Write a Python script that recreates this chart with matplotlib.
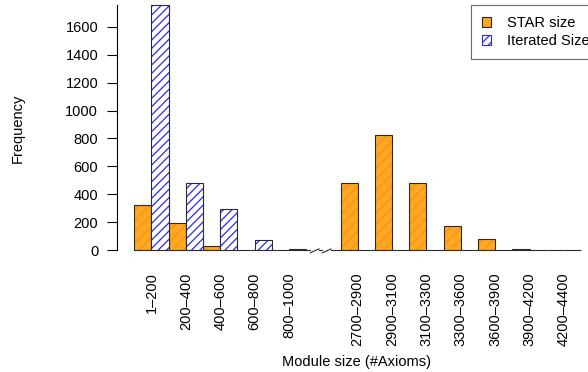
import matplotlib
matplotlib.use('Agg')
import matplotlib.pyplot as plt
from matplotlib.patches import Patch

plt.rcParams['font.family'] = ['Liberation Sans', 'DejaVu Sans']
plt.rcParams['hatch.linewidth'] = 0.9

# data
left_labels = ['1\u2013200', '200\u2013400', '400\u2013600', '600\u2013800', '800\u20131000']
right_labels = ['2700\u20132900', '2900\u20133100', '3100\u20133300', '3300\u20133600',
                '3600\u20133900', '3900\u20134200', '4200\u20134400']
star_left = [323, 194, 30, 0, 0]
iter_left = [1755, 483, 292, 72, 5]
star_right = [483, 823, 483, 172, 79, 8, 3]
iter_right = [0, 0, 0, 0, 0, 0, 0]

# group slots: left groups 0..4, one empty slot, right groups 6..12
groups = list(range(len(left_labels))) + list(range(6, 6 + len(right_labels)))
labels = left_labels + right_labels
star = star_left + star_right
iterated = iter_left + iter_right

orange = '#FFA623'
orange_hatch = '#F29612'
blue = '#2B2BF0'
edge = '#2a2a2a'

fig = plt.figure(figsize=(5.88, 3.72), dpi=100)
ax = fig.add_axes([117 / 588, 1 - 250 / 372, 1 - 117 / 588, (250 - 5) / 372])

xs_star = [2 * g for g in groups]
xs_iter = [2 * g + 1 for g in groups]

# orange bars: fill + faint hatch, then outline
ax.bar(xs_star, star, width=1, align='edge', color=orange, edgecolor=orange_hatch,
       hatch='///', linewidth=0, clip_on=False)
ax.bar(xs_star, star, width=1, align='edge', fill=False, edgecolor=edge,
       linewidth=0.8, clip_on=False)
# blue hatched bars
ax.bar(xs_iter, iterated, width=1, align='edge', color='white', edgecolor=blue,
       hatch='////', linewidth=0, clip_on=False)
ax.bar(xs_iter, iterated, width=1, align='edge', fill=False, edgecolor=edge,
       linewidth=0.8, clip_on=False)

# baseline across the empty slot with break marks
ax.plot([10, 10.25], [0, 0], color=edge, lw=0.8, clip_on=False)
ax.plot([10.75, 10.95], [0, 0], color=edge, lw=0.8, clip_on=False)
ax.plot([11.45, 12], [0, 0], color=edge, lw=0.8, clip_on=False)
for x0 in [10.25, 10.95]:
    ax.plot([x0, x0 + 0.5], [-20, 8], color=edge, lw=0.8, clip_on=False)

ax.set_xlim(-1, (588 - 134) / 17.2)
ax.set_ylim(0, 1757)

ax.set_yticks(range(0, 1601, 200))
ax.set_xticks([2 * g + 1 for g in groups])
ax.set_xticklabels(labels, rotation=90, va='top', ha='center')
ax.tick_params(axis='x', length=0, pad=16, labelsize=10.5)
ax.tick_params(axis='y', length=7, width=0.8, pad=6.5, labelsize=10.5)

for s in ['top', 'right', 'bottom']:
    ax.spines[s].set_visible(False)
ax.spines['left'].set_linewidth(0.8)

fig.text(18 / 588, 1 - 128 / 372, 'Frequency', rotation=90, ha='center', va='center',
         fontsize=10.5)
fig.text(357 / 588, 1 - 362 / 372, 'Module size (#Axioms)', ha='center', va='center',
         fontsize=10.5)

handles = [Patch(facecolor=orange, edgecolor=edge, linewidth=0.8),
           Patch(facecolor='white', edgecolor=blue, hatch='////', linewidth=0.8)]
leg = fig.legend(handles, ['STAR size', 'Iterated Size'], loc='upper left',
                 bbox_to_anchor=(471 / 588, 1 - 5 / 372), fontsize=10.5,
                 frameon=True, fancybox=False, edgecolor='#444444',
                 handlelength=0.62, handleheight=0.62, handletextpad=1.1,
                 borderpad=0.75, labelspacing=0.3, borderaxespad=0)
leg.get_frame().set_linewidth(0.8)

fig.savefig('out.png', dpi=100)
